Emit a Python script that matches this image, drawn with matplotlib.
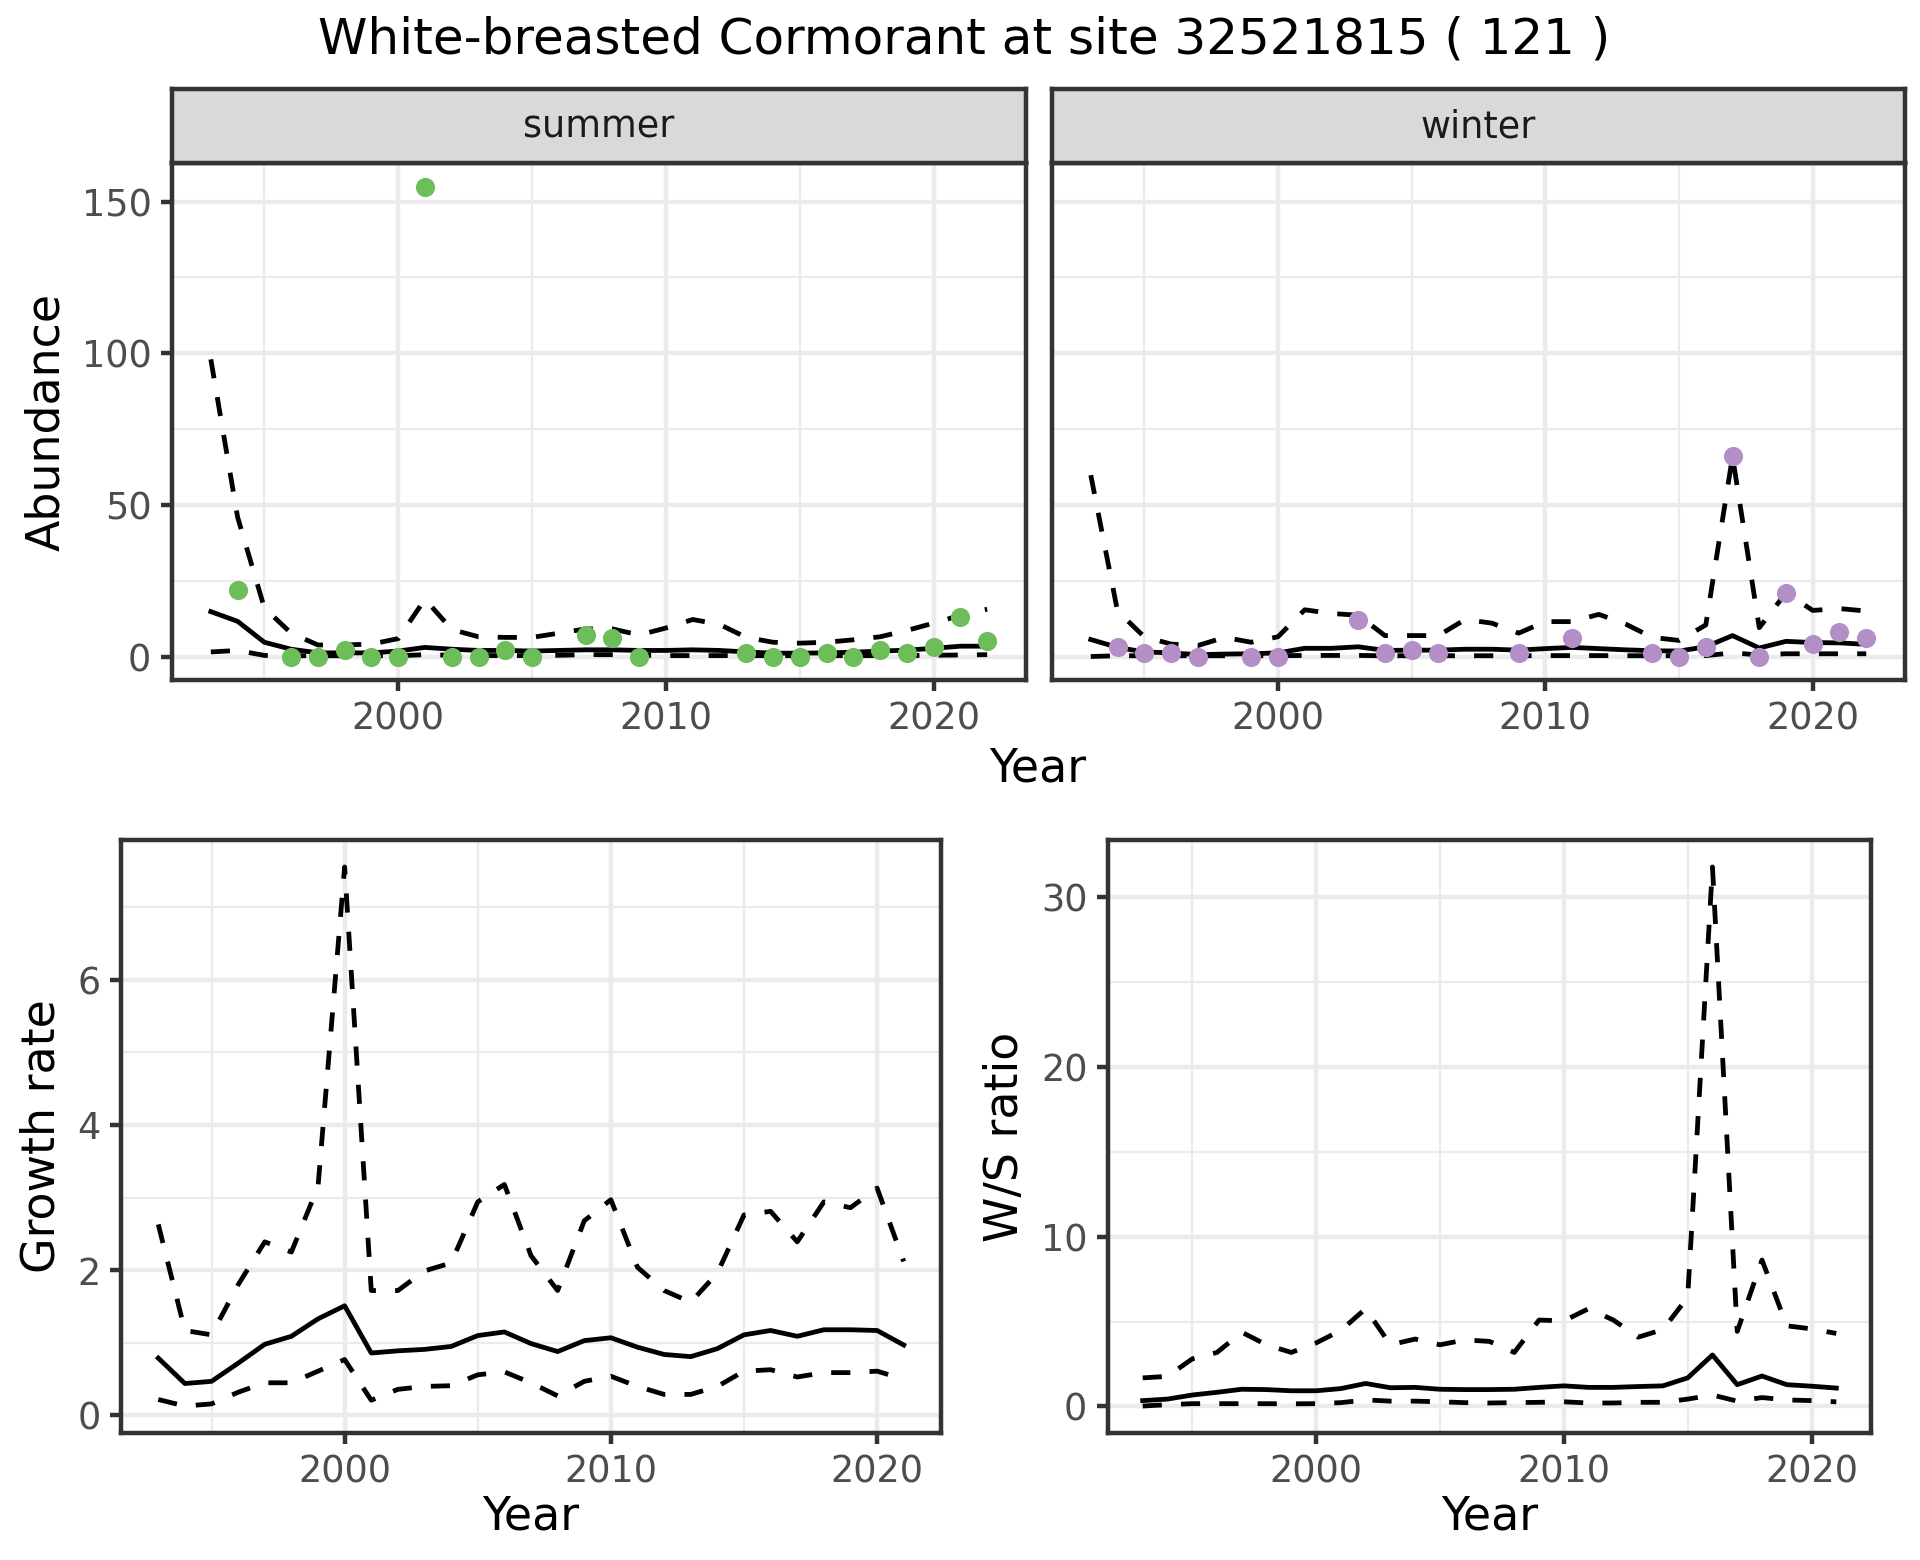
import numpy as np
import matplotlib
matplotlib.use("Agg")
import matplotlib.pyplot as plt
from matplotlib.ticker import MultipleLocator

# ---- data ----
years = np.arange(1993, 2023)
years_g = np.arange(1993, 2022)

summer_yrs = [1994, 1996, 1997, 1998, 1999, 2000, 2001, 2002, 2003, 2004, 2005,
              2007, 2008, 2009, 2013, 2014, 2015, 2016, 2017, 2018, 2019, 2020, 2021, 2022]
summer_cnt = [22, 0, 0, 2, 0, 0, 155, 0, 0, 2, 0,
              7, 6, 0, 1, 0, 0, 1, 0, 2, 1, 3, 13, 5]
summer_mid = [14.8, 11.6, 4.7, 2.4, 1.2, 1.2, 1.2, 1.8, 3.0, 2.4, 2.0, 2.0, 1.8, 2.0, 2.2,
              2.2, 2.0, 2.0, 2.2, 2.0, 1.5, 1.1, 1.1, 1.2, 1.4, 1.8, 2.1, 2.7, 3.4, 3.4]
summer_hi = [98, 46, 16, 7.7, 3.8, 3.8, 4.1, 5.9, 18.9, 8.9, 6.5, 6.3, 6.3, 7.7, 9.1,
             9.1, 7.1, 9.4, 12.2, 10.6, 6.3, 4.7, 4.4, 4.7, 5.5, 6.5, 8.6, 11, 13.6, 15.6]
summer_lo = [1.5, 2.0, 0.35, 0.25, 0.25, 0.25, 0.25, 0.25, 0.6, 0.4, 0.3, 0.3, 0.3, 0.4, 0.6,
             0.6, 0.4, 0.3, 0.3, 0.3, 0.3, 0.25, 0.25, 0.25, 0.3, 0.3, 0.3, 0.4, 0.5, 0.6]

winter_yrs = [1994, 1995, 1996, 1997, 1999, 2000, 2003, 2004, 2005, 2006, 2009,
              2011, 2014, 2015, 2016, 2017, 2018, 2019, 2020, 2021, 2022]
winter_cnt = [3, 1, 1, 0, 0, 0, 12, 1, 2, 1, 1,
              6, 1, 0, 3, 66, 0, 21, 4, 8, 6]
winter_mid = [5.6, 3.0, 1.5, 1.2, 0.6, 0.8, 0.9, 1.2, 2.7, 2.7, 3.2, 2.0, 2.1, 2.1, 2.4,
              2.4, 2.1, 2.6, 3.0, 2.6, 2.2, 1.9, 1.8, 3.2, 6.9, 2.8, 5.0, 4.6, 4.5, 4.0]
winter_hi = [59.8, 15, 6.5, 4.1, 3.6, 6.3, 4.7, 6.5, 15.4, 14.2, 13.6, 6.9, 6.9, 6.9, 12.2,
             11, 7.7, 11.5, 11.5, 13.9, 10.7, 6.3, 5.3, 10.4, 66, 9.5, 21, 15.2, 15.8, 15.0]
winter_lo = [0.0, 0.25, 0.25, 0.25, 0.25, 0.25, 0.25, 0.25, 0.35, 0.35, 0.35, 0.25, 0.25, 0.25, 0.25,
             0.25, 0.25, 0.3, 0.3, 0.3, 0.25, 0.25, 0.25, 0.3, 1.2, 0.5, 0.9, 0.9, 0.9, 0.9]

growth_mid = [0.79, 0.44, 0.47, 0.72, 0.98, 1.09, 1.33, 1.51, 0.86, 0.89, 0.91, 0.95, 1.10, 1.15, 0.99,
              0.88, 1.03, 1.07, 0.94, 0.84, 0.81, 0.92, 1.11, 1.17, 1.09, 1.18, 1.18, 1.17, 0.97]
growth_hi = [2.63, 1.17, 1.11, 1.80, 2.39, 2.25, 3.15, 7.55, 1.72, 1.72, 1.99, 2.10, 2.94, 3.18, 2.20,
             1.72, 2.68, 2.97, 2.04, 1.72, 1.56, 1.96, 2.76, 2.81, 2.39, 2.94, 2.86, 3.13, 2.12]
growth_lo = [0.22, 0.13, 0.16, 0.32, 0.45, 0.45, 0.61, 0.77, 0.21, 0.36, 0.40, 0.41, 0.56, 0.60, 0.45,
             0.27, 0.47, 0.54, 0.40, 0.29, 0.29, 0.40, 0.61, 0.63, 0.53, 0.59, 0.59, 0.61, 0.50]

ws_mid = [0.34, 0.43, 0.67, 0.83, 1.01, 0.99, 0.92, 0.92, 1.05, 1.35, 1.10, 1.12, 1.01, 0.99, 0.99,
          1.01, 1.12, 1.21, 1.12, 1.12, 1.17, 1.21, 1.68, 3.03, 1.28, 1.79, 1.28, 1.19, 1.08]
ws_hi = [1.68, 1.77, 2.8, 3.18, 4.37, 3.63, 3.18, 3.74, 4.48, 5.76, 3.63, 3.97, 3.63, 3.92, 3.83,
         3.18, 5.09, 5.04, 5.76, 5.09, 4.08, 4.53, 6.43, 31.8, 4.42, 8.63, 4.75, 4.57, 4.3]
ws_lo = [0.02, 0.1, 0.16, 0.16, 0.16, 0.16, 0.15, 0.16, 0.22, 0.38, 0.31, 0.31, 0.27, 0.22, 0.2,
         0.22, 0.24, 0.27, 0.2, 0.2, 0.24, 0.24, 0.43, 0.67, 0.31, 0.52, 0.38, 0.34, 0.27]

GREEN = "#6dbe5a"
PURPLE = "#b48fc7"
LW = 1.07
W, H = 1920, 1560


def box(x0, y0, x1, y1):
    return [x0 / W, 1 - y1 / H, (x1 - x0) / W, (y1 - y0) / H]


def style(ax, ymaj, ymin):
    ax.set_facecolor("white")
    ax.xaxis.set_major_locator(MultipleLocator(10))
    ax.xaxis.set_minor_locator(MultipleLocator(5))
    ax.yaxis.set_major_locator(MultipleLocator(ymaj))
    ax.yaxis.set_minor_locator(MultipleLocator(ymin))
    ax.grid(which="major", color="#ebebeb", lw=LW)
    ax.grid(which="minor", color="#ebebeb", lw=LW / 2)
    ax.set_axisbelow(True)
    for s in ax.spines.values():
        s.set_color("#333333")
        s.set_linewidth(LW)
    ax.tick_params(which="major", length=2.75, width=LW, color="#333333",
                   labelsize=8.8, labelcolor="#4d4d4d", pad=2.2)
    ax.tick_params(which="minor", length=0)


def band(ax, x, mid, hi, lo):
    ax.plot(x, hi, color="black", lw=1.15, dashes=(4, 4))
    ax.plot(x, lo, color="black", lw=1.15, dashes=(4, 4))
    ax.plot(x, mid, color="black", lw=1.15)


plt.rcParams["font.family"] = ["DejaVu Sans"]
fig = plt.figure(figsize=(6.4, 5.2), dpi=300)

ax_s = fig.add_axes(box(172, 163, 1026, 680))
ax_w = fig.add_axes(box(1052, 163, 1905, 680), sharey=ax_s)

band(ax_s, years, summer_mid, summer_hi, summer_lo)
ax_s.plot(summer_yrs, summer_cnt, "o", color=GREEN, ms=4.6, mew=0)
band(ax_w, years, winter_mid, winter_hi, winter_lo)
ax_w.plot(winter_yrs, winter_cnt, "o", color=PURPLE, ms=4.6, mew=0)

for ax, name, x0, x1 in [(ax_s, "summer", 172, 1026), (ax_w, "winter", 1052, 1905)]:
    style(ax, 50, 25)
    ax.set_xlim(1991.55, 2023.45)
    st = fig.add_axes(box(x0, 89, x1, 163))
    st.set_facecolor("#d9d9d9")
    st.set_xticks([])
    st.set_yticks([])
    for s in st.spines.values():
        s.set_color("#333333")
        s.set_linewidth(LW)
    st.text(0.5, 0.48, name, ha="center", va="center", fontsize=8.8,
            color="#1a1a1a", transform=st.transAxes)
ax_s.set_ylim(-7.75, 162.75)
ax_w.tick_params(axis="y", labelleft=False, length=0)
ax_s.set_ylabel("Abundance", fontsize=11, labelpad=3)
fig.text(1038 / W, 1 - 769 / H, "Year", ha="center", va="center", fontsize=11)

ax_g = fig.add_axes(box(121, 840, 941, 1433))
band(ax_g, years_g, growth_mid, growth_hi, growth_lo)
style(ax_g, 2, 1)
ax_g.set_xlim(1991.6, 2022.4)
ax_g.set_ylabel("Growth rate", fontsize=11, labelpad=3)
ax_g.set_xlabel("Year", fontsize=11, labelpad=1)

ax_r = fig.add_axes(box(1108, 840, 1871, 1433))
band(ax_r, years_g, ws_mid, ws_hi, ws_lo)
style(ax_r, 10, 5)
ax_r.set_xlim(1991.6, 2022.4)
ax_r.set_ylabel("W/S ratio", fontsize=11, labelpad=3)
ax_r.set_xlabel("Year", fontsize=11, labelpad=1)

fig.text(964 / W, 1 - 40 / H, "White-breasted Cormorant at site 32521815 ( 121 )",
         ha="center", va="center", fontsize=12)

fig.savefig("out.png", dpi=300, facecolor="white")
